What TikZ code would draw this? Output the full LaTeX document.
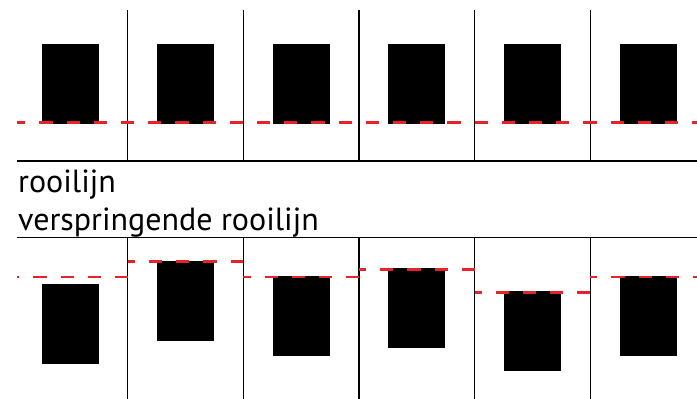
\documentclass[tikz,border=0pt]{standalone}
\usepackage{fontspec}
\setmainfont{PT Sans}
\usetikzlibrary{positioning}
\definecolor{rooired}{RGB}{230,35,40}

\begin{document}
\begin{tikzpicture}[x=1pt,y=-1pt,
  grens/.style={line width=1.2pt},
  pand/.style={fill=black,inner sep=0,minimum width=56.9pt,minimum height=80pt,anchor=north west},
  rooilijn/.style={rooired,line width=2.9pt,dash pattern=on 13.3pt off 13.9pt},
  bijschrift/.style={inner sep=0,anchor=base west,font=\fontsize{32}{34}\selectfont}]
\useasboundingbox (0,0) rectangle (697,399);
% rechte rooilijn
\foreach \i in {1,...,5}{\draw[grens] ({12.1+\i*115.6},10)--({12.1+\i*115.6},161);}
\draw[grens] (17,161)--(697,161);
\foreach \i in {0,...,5}{\node[pand] (boven\i) at ({41.4+\i*115.6},44) {};}
\draw[rooilijn,dash phase=4.9pt] (17,122.7)--(697,122.7);
% teksten
\node[bijschrift] (recht) at (18,192.3) {rooilijn};
\node[bijschrift] (verspr) at ([yshift=-37.7pt]recht.base west) {verspringende rooilijn};
% verspringende rooilijn
\draw[grens] (17,237.5)--(697,237.5);
\foreach \i in {1,...,5}{\draw[grens] ({12.1+\i*115.6},237.5)--({12.1+\i*115.6},399);}
\foreach \i/\top/\rl in {0/283.3/277,1/260.3/261.3,2/275.7/277,3/268/269.3,4/291/292.3,5/275.7/277}{
  \pgfmathsetmacro\links{max(17,12.1+\i*115.6)}
  \pgfmathsetmacro\rechts{min(697,12.1+(\i+1)*115.6)}
  \pgfmathsetmacro\fase{6+\links-12.1-\i*115.6}
  \node[pand] (onder\i) at ({41.4+\i*115.6},\top) {};
  \draw[rooilijn,dash phase=\fase pt] (\links,\rl)--(\rechts,\rl);
}
\end{tikzpicture}
\end{document}
